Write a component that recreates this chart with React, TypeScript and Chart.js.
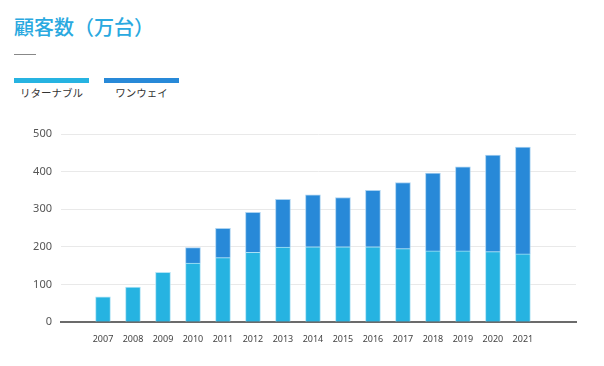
import React, { useEffect, useRef } from "react";
import { Chart, registerables } from "chart.js";

Chart.register(...registerables);

const years = [2007, 2008, 2009, 2010, 2011, 2012, 2013, 2014, 2015, 2016, 2017, 2018, 2019, 2020, 2021];
const returnable = [67, 93, 132, 157, 171, 185, 199, 200, 200, 200, 195, 189, 189, 187, 181];
const oneway = [0, 0, 0, 41, 78, 107, 127, 138, 131, 150, 176, 207, 224, 257, 284];
const yTicks = [0, 100, 200, 300, 400, 500];
const seriesNames = ["リターナブル", "ワンウェイ"];
const title = "顧客数（万台）";

const LIGHT = "#26b3e1";
const DARK = "#2889d8";
const FONT = "'Noto Sans', 'Noto Sans CJK JP', sans-serif";

export default function App() {
  const ref = useRef<HTMLCanvasElement | null>(null);

  useEffect(() => {
    if (!ref.current) return;
    const chart = new Chart(ref.current, {
      type: "bar",
      data: {
        datasets: [
          {
            label: seriesNames[0],
            data: years.map((y, i) => ({ x: y, y: returnable[i] })),
            backgroundColor: LIGHT,
            borderColor: "rgba(170,225,245,0.9)",
            borderWidth: 1,
            barThickness: 15,
          },
          {
            label: seriesNames[1],
            data: years.map((y, i) => ({ x: y, y: oneway[i] })),
            backgroundColor: DARK,
            borderColor: "rgba(160,205,240,0.9)",
            borderWidth: 1,
            barThickness: 15,
          },
        ],
      },
      options: {
        animation: false,
        responsive: false,
        maintainAspectRatio: false,
        layout: { padding: { left: 0, right: 28, top: 24, bottom: 0 } },
        plugins: { legend: { display: false }, tooltip: { enabled: false } },
        scales: {
          x: {
            type: "linear",
            stacked: true,
            offset: false,
            min: 2005.6,
            max: 2022.77,
            afterBuildTicks: (scale: any) => {
              scale.ticks = years.map((v) => ({ value: v }));
            },
            afterFit: (scale: any) => {
              scale.height = 44;
            },
            grid: { display: false, drawTicks: false },
            border: { display: true, color: "#6b6b6b", width: 2 },
            ticks: {
              autoSkip: false,
              maxRotation: 0,
              padding: 12,
              color: "#444",
              font: { family: FONT, size: 9 },
              callback: (v: any) => String(v),
            },
          },
          y: {
            stacked: true,
            min: 0,
            max: 500,
            afterBuildTicks: (scale: any) => {
              scale.ticks = yTicks.map((v) => ({ value: v }));
            },
            afterFit: (scale: any) => {
              scale.width = 61;
            },
            grid: { color: "#e9e9e9", lineWidth: 1, drawTicks: false },
            border: { display: false },
            ticks: {
              padding: 9,
              color: "#555",
              font: { family: FONT, size: 11 },
            },
          },
        },
      },
    });
    return () => chart.destroy();
  }, []);

  return (
    <div style={{ position: "absolute", left: 0, top: 0, width: 604, height: 366, background: "#fff", fontFamily: FONT }}>
      <div style={{ position: "absolute", left: 14, top: 12, fontSize: 20, fontWeight: 500, color: "#2aa9e0", lineHeight: "30px", fontFamily: "'Noto Sans CJK JP', sans-serif", whiteSpace: "nowrap" }}>
        {title}
      </div>
      <div style={{ position: "absolute", left: 14, top: 54, width: 22, height: 1, background: "#888" }} />
      <div style={{ position: "absolute", left: 14, top: 78, width: 75, height: 5, background: LIGHT }} />
      <div style={{ position: "absolute", left: 104, top: 78, width: 75, height: 5, background: DARK }} />
      <div style={{ position: "absolute", left: 14, top: 85, width: 75, textAlign: "center", fontSize: 10.5, color: "#333", lineHeight: "16px", fontFamily: "'Noto Sans CJK JP', sans-serif" }}>
        {seriesNames[0]}
      </div>
      <div style={{ position: "absolute", left: 104, top: 85, width: 75, textAlign: "center", fontSize: 10.5, color: "#333", lineHeight: "16px", fontFamily: "'Noto Sans CJK JP', sans-serif" }}>
        {seriesNames[1]}
      </div>
      <canvas ref={ref} width={604} height={256} style={{ position: "absolute", left: 0, top: 110, width: 604, height: 256 }} />
    </div>
  );
}
